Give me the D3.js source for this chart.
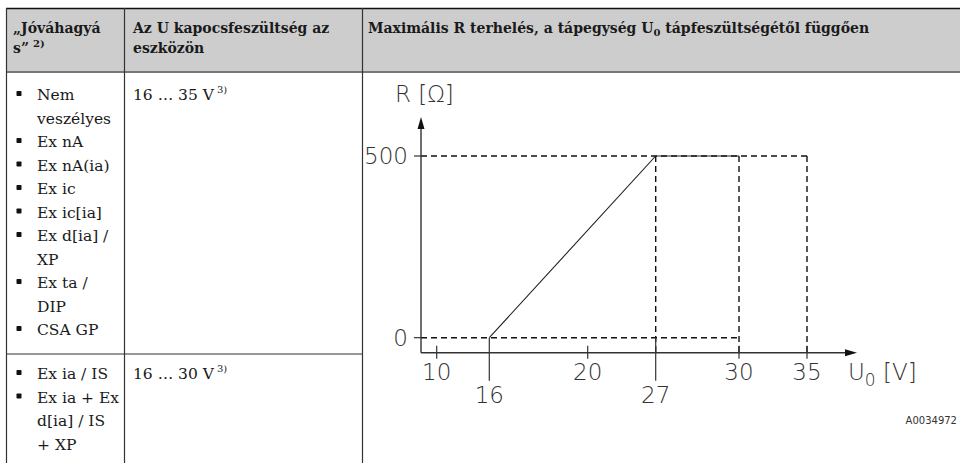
<!DOCTYPE html>
<html>
<head>
<meta charset="utf-8">
<script src="https://cdn.jsdelivr.net/npm/d3@7"></script>
<style>
  body { margin: 0; background: #fff; }
  svg text { fill: #1a1a1a; }
  .cell { font-family: "DejaVu Serif", serif; font-size: 15.5px; }
  .head { font-family: "DejaVu Serif", serif; font-weight: bold; font-size: 14px; }
  .chart text { font-family: "DejaVu Sans", sans-serif; font-weight: 200; font-size: 23px; fill: #333; }
</style>
</head>
<body>
<div id="chart"></div>
<script>
// table content
let headers = [["„Jóváhagyá", "s”"], ["Az U kapocsfeszültség az", "eszközön"]];
let approvalsRow1 = [["Nem", "veszélyes"], ["Ex nA"], ["Ex nA(ia)"], ["Ex ic"], ["Ex ic[ia]"],
                     ["Ex d[ia] /", "XP"], ["Ex ta /", "DIP"], ["CSA GP"]];
let approvalsRow2 = [["Ex ia / IS"], ["Ex ia + Ex", "d[ia] / IS", "+ XP"]];
let voltageRanges = ["16 … 35 V", "16 … 30 V"];

// chart data
let xTicks = [10, 16, 20, 27, 30, 35];
let longTicks = [16, 27];
let yTicks = [0, 500];
let loadCurve = [[16, 0], [27, 500], [30, 500]];
let hGuides = [[500, 35], [0, 30]];      // [R, until U]
let vGuides = [27, 30, 35];              // dashed verticals from 500 down

let width = 960, height = 463;
let lineH = 23.5;

let svg = d3.select('#chart').append('svg')
    .attr('width', width)
    .attr('height', height);

// ---- table frame
let tbl = svg.append('g');
tbl.append('rect').attr('x', 6).attr('y', 8).attr('width', width - 6).attr('height', 64)
    .attr('fill', '#cdcdcd');
tbl.append('line').attr('x1', 6).attr('x2', width).attr('y1', 8.5).attr('y2', 8.5)
    .attr('stroke', '#111').attr('stroke-width', 1.3);
tbl.append('line').attr('x1', 6).attr('x2', width).attr('y1', 72).attr('y2', 72)
    .attr('stroke', '#777').attr('stroke-width', 2);
[6.5, 124.5, 362.5].forEach(function(x){
    tbl.append('line').attr('x1', x).attr('x2', x).attr('y1', 8).attr('y2', height)
        .attr('stroke', '#333').attr('stroke-width', 1.2);
});
tbl.append('line').attr('x1', 6).attr('x2', 363).attr('y1', 354).attr('y2', 354)
    .attr('stroke', '#333').attr('stroke-width', 1.2);

// header texts
let hx = [13, 133];
headers.forEach(function(lines, i){
    let t = tbl.append('text').attr('class', 'head');
    lines.forEach(function(s, j){
        t.append('tspan').attr('x', hx[i]).attr('y', 33 + j * 20).text(s);
    });
});
tbl.select('text').append('tspan').attr('dx', 4).attr('dy', -6).attr('font-size', 10).text('2)');

let h3 = tbl.append('text').attr('class', 'head').attr('x', 368).attr('y', 33);
h3.append('tspan').text('Maximális R terhelés, a tápegység U');
h3.append('tspan').attr('font-size', 10).attr('dy', 3).text('0');
h3.append('tspan').attr('dy', -3).text(' tápfeszültségétől függően');

// body rows
function bulletList(items, y0) {
    let n = 0;
    items.forEach(function(lines){
        tbl.append('rect').attr('x', 16.5).attr('y', y0 + n * lineH - 9)
            .attr('width', 5).attr('height', 5).attr('rx', 0.8).attr('fill', '#111');
        lines.forEach(function(s){
            tbl.append('text').attr('class', 'cell').attr('x', 37).attr('y', y0 + n * lineH).text(s);
            n++;
        });
    });
}
bulletList(approvalsRow1, 100);
bulletList(approvalsRow2, 379);

[100, 379].forEach(function(y, i){
    let t = tbl.append('text').attr('class', 'cell').attr('x', 133).attr('y', y);
    t.append('tspan').text(voltageRanges[i]);
    t.append('tspan').attr('dx', 3).attr('dy', -7).attr('font-size', 10).text('3)');
});

// ---- chart
let x = d3.scaleLinear()
    .domain(xTicks)
    .range([436.7, 489.3, 587.7, 655.7, 739, 807]);
let y = d3.scaleLinear()
    .domain([0, 500])
    .range([337.7, 156]);

let originX = 421, axisY = y(0) + 15, axisTop = 117, axisEnd = 857;
let ch = svg.append('g').attr('class', 'chart');

// dashed guides
hGuides.forEach(function(d){
    ch.append('line').attr('x1', originX).attr('x2', x(d[1]))
        .attr('y1', y(d[0])).attr('y2', y(d[0]))
        .attr('stroke', '#111').attr('stroke-width', 1.4).attr('stroke-dasharray', '6,4');
});
vGuides.forEach(function(v){
    ch.append('line').attr('x1', x(v)).attr('x2', x(v))
        .attr('y1', y(500)).attr('y2', axisY)
        .attr('stroke', '#111').attr('stroke-width', 1.4).attr('stroke-dasharray', '6,4');
});

// load curve
ch.append('path')
    .datum(loadCurve)
    .attr('d', d3.line().x(function(d){ return x(d[0]); }).y(function(d){ return y(d[1]); }))
    .attr('fill', 'none').attr('stroke', '#222').attr('stroke-width', 1.1);

// axes with arrows
ch.append('line').attr('x1', originX).attr('x2', axisEnd - 10).attr('y1', axisY).attr('y2', axisY)
    .attr('stroke', '#333').attr('stroke-width', 1.4);
ch.append('path').attr('d', d3.line()([[axisEnd, axisY], [axisEnd - 12, axisY - 3.5], [axisEnd - 12, axisY + 3.5]]))
    .attr('fill', '#111');
ch.append('line').attr('x1', originX).attr('x2', originX).attr('y1', axisY).attr('y2', axisTop + 10)
    .attr('stroke', '#333').attr('stroke-width', 1.4);
ch.append('path').attr('d', d3.line()([[originX, axisTop], [originX - 3.5, axisTop + 12], [originX + 3.5, axisTop + 12]]))
    .attr('fill', '#111');

// x ticks
xTicks.forEach(function(v){
    let isLong = longTicks.includes(v);
    ch.append('line').attr('x1', x(v)).attr('x2', x(v))
        .attr('y1', isLong ? y(0) : axisY - 7).attr('y2', isLong ? axisY + 28 : axisY + 6)
        .attr('stroke', '#333').attr('stroke-width', 1.2);
    ch.append('text').attr('x', x(v)).attr('y', isLong ? 403 : 380)
        .attr('text-anchor', 'middle').text(v);
});

// y ticks
yTicks.forEach(function(v){
    ch.append('line').attr('x1', originX - 7).attr('x2', originX)
        .attr('y1', y(v)).attr('y2', y(v)).attr('stroke', '#333').attr('stroke-width', 1.2);
    ch.append('text').attr('x', 408).attr('y', y(v) + 8)
        .attr('text-anchor', 'end').text(v);
});

// axis titles
ch.append('text').attr('x', 395).attr('y', 102).text('R [Ω]');
let ut = ch.append('text').attr('x', 848).attr('y', 380);
ut.append('tspan').text('U');
ut.append('tspan').attr('font-size', 17).attr('dy', 6).text('0');
ut.append('tspan').attr('dy', -6).text(' [V]');

ch.append('text').attr('x', 957).attr('y', 424).attr('text-anchor', 'end')
    .style('font-size', '10px').style('font-weight', 400).text('A0034972');
</script>
</body>
</html>
